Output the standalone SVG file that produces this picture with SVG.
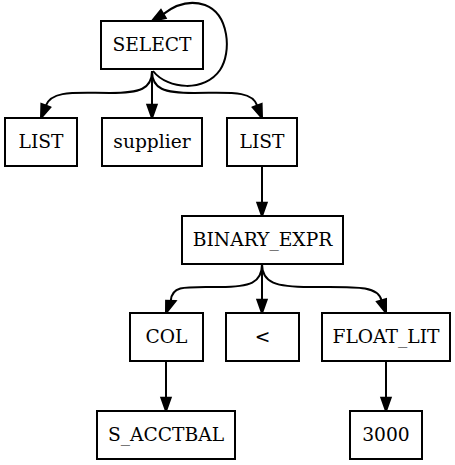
<svg xmlns="http://www.w3.org/2000/svg" width="455" height="465" viewBox="0 0 455 465">
<style>
.box{fill:#fff;stroke:#000;stroke-width:2}
.t{font-family:"DejaVu Serif","Liberation Serif",serif;font-size:18.67px;text-anchor:middle;fill:#000}
.e{fill:none;stroke:#000;stroke-width:2}
.h{fill:#000;stroke:#000;stroke-width:2;stroke-linejoin:miter}
</style>
<rect width="455" height="465" fill="#fff"/>
<g id="edges">
<path class="e" d="M153,71 C168,90 205,92 220,70 C232,52 229,14 205,5 C190,0 175,5 163.3,14.1"/>
<polygon class="h" points="165.7,18.1 160.9,10.1 152,21"/>
<path class="e" d="M152,71 C152,89 140,93 110,93 C75,93 52,90 45.8,105.6"/>
<polygon class="h" points="50.2,107.3 41.4,103.9 41,118"/>
<path class="e" d="M152,71 L152,104.7"/>
<polygon class="h" points="147.3,104.7 156.7,104.7 152,118"/>
<path class="e" d="M152,71 C152,89 164,93 194,93 C229,93 252,90 257.2,105.6"/>
<polygon class="h" points="252.8,107.3 261.6,103.9 262,118"/>
<path class="e" d="M262,167 L262,202.7"/>
<polygon class="h" points="257.3,202.7 266.7,202.7 262,216"/>
<path class="e" d="M262,264 C262,283 250,287 220,287 C185,287 172,285 170.8,300.6"/>
<polygon class="h" points="175.5,301.1 166.1,300.7 166,313"/>
<path class="e" d="M262,264 L262,299.7"/>
<polygon class="h" points="257.3,299.7 266.7,299.7 262,313"/>
<path class="e" d="M262,264 C262,283 276,287 310,287 C355,287 378,285 381.6,300.6"/>
<polygon class="h" points="377,301.8 386,299 386,313"/>
<path class="e" d="M166,362 L166,397.7"/>
<polygon class="h" points="161.3,397.7 170.7,397.7 166,411"/>
<path class="e" d="M386,362 L386,397.7"/>
<polygon class="h" points="381.3,397.7 390.7,397.7 386,411"/>
</g>
<g id="n_select"><rect class="box" x="101" y="21" width="102" height="48"/><text class="t" x="152" y="51">SELECT</text></g>
<g id="n_list1"><rect class="box" x="5" y="118" width="72" height="48"/><text class="t" x="41" y="148">LIST</text></g>
<g id="n_supplier"><rect class="box" x="102" y="118" width="100" height="48"/><text class="t" x="152" y="148">supplier</text></g>
<g id="n_list2"><rect class="box" x="227" y="118" width="70" height="48"/><text class="t" x="262" y="148">LIST</text></g>
<g id="n_binary"><rect class="box" x="182" y="216" width="161" height="48"/><text class="t" x="262.5" y="246">BINARY_EXPR</text></g>
<g id="n_col"><rect class="box" x="130" y="313" width="73" height="48"/><text class="t" x="166.5" y="343">COL</text></g>
<g id="n_lt"><rect class="box" x="226" y="313" width="73" height="48"/><text class="t" x="262.5" y="343">&lt;</text></g>
<g id="n_float"><rect class="box" x="322" y="313" width="128" height="48"/><text class="t" x="386" y="343">FLOAT_LIT</text></g>
<g id="n_acctbal"><rect class="box" x="97" y="411" width="138" height="48"/><text class="t" x="166" y="441">S_ACCTBAL</text></g>
<g id="n_3000"><rect class="box" x="350" y="411" width="72" height="48"/><text class="t" x="386" y="441">3000</text></g>
</svg>
